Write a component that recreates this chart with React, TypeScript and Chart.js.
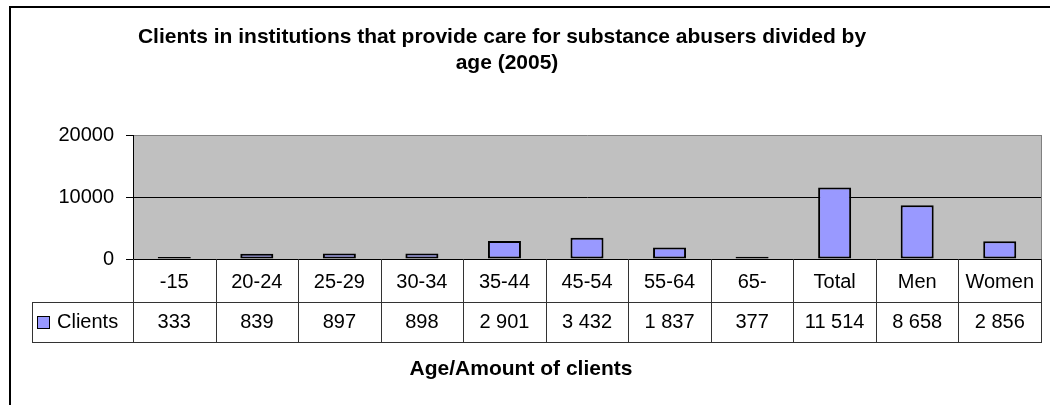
import React, { useEffect, useRef } from 'react';
import { Chart, registerables } from 'chart.js';

Chart.register(...registerables);

// Clients per age group, plus totals by sex
const categories = ['-15', '20-24', '25-29', '30-34', '35-44', '45-54', '55-64', '65-', 'Total', 'Men', 'Women'];
const clients = [333, 839, 897, 898, 2901, 3432, 1837, 377, 11514, 8658, 2856];
const seriesName = 'Clients';
const yTicks = [0, 10000, 20000];
const titleLines = ['Clients in institutions that provide care for substance abusers divided by', 'age (2005)'];
const axisTitle = 'Age/Amount of clients';

const FONT = '"Liberation Sans", Arial, Helvetica, sans-serif';
const BAR_FILL = '#9999FF';
const PLOT_FILL = '#C0C0C0';
const TEXT_SIZE = 20;

const formatCount = (n: number) => String(n).replace(/\B(?=(\d{3})+(?!\d))/g, ' ');

// Grey plot background and its right edge
const plotBackground = {
  id: 'plotBackground',
  beforeDraw(chart: any) {
    const { ctx, chartArea: a } = chart;
    ctx.save();
    ctx.fillStyle = PLOT_FILL;
    ctx.fillRect(a.left, a.top, a.right - a.left, a.bottom - a.top);
    ctx.restore();
  },
  beforeDatasetsDraw(chart: any) {
    const { ctx, chartArea: a } = chart;
    ctx.save();
    ctx.strokeStyle = '#808080';
    ctx.lineWidth = 1;
    ctx.beginPath();
    ctx.moveTo(Math.round(a.right) + 0.5, a.top);
    ctx.lineTo(Math.round(a.right) + 0.5, a.bottom);
    ctx.stroke();
    ctx.restore();
  },
};

// Data table under the axis, titles and the outer frame
const tableAndTitles = {
  id: 'tableAndTitles',
  afterDraw(chart: any) {
    const { ctx, chartArea: a } = chart;
    const xScale = chart.scales.x;
    const ds = chart.data.datasets[0];
    const n = categories.length;
    const colW = (a.right - a.left) / n;
    const headTop = Math.round(a.bottom);
    const headBottom = 302;
    const rowBottom = 342;
    const tableLeft = 32;
    const rowMid = (headBottom + rowBottom) / 2;

    ctx.save();
    ctx.strokeStyle = '#333333';
    ctx.lineWidth = 1;
    ctx.beginPath();
    ctx.moveTo(tableLeft, headBottom + 0.5);
    ctx.lineTo(a.right + 1, headBottom + 0.5);
    ctx.moveTo(tableLeft, rowBottom + 0.5);
    ctx.lineTo(a.right + 1, rowBottom + 0.5);
    for (let i = 0; i <= n; i++) {
      const xx = Math.round(a.left + i * colW) + 0.5;
      ctx.moveTo(xx, headTop);
      ctx.lineTo(xx, rowBottom + 1);
    }
    ctx.moveTo(tableLeft + 0.5, headBottom);
    ctx.lineTo(tableLeft + 0.5, rowBottom + 1);
    ctx.stroke();

    // values row
    ctx.fillStyle = '#000';
    ctx.font = `${TEXT_SIZE}px ${FONT}`;
    ctx.textAlign = 'center';
    ctx.textBaseline = 'middle';
    ds.data.forEach((v: number, i: number) => {
      ctx.fillText(formatCount(v), xScale.getPixelForValue(i), rowMid);
    });

    // legend key inside the table
    ctx.fillStyle = ds.backgroundColor;
    ctx.fillRect(37, rowMid - 6, 13, 13);
    ctx.strokeStyle = '#000';
    ctx.strokeRect(37.5, rowMid - 5.5, 12, 12);
    ctx.fillStyle = '#000';
    ctx.textAlign = 'left';
    ctx.fillText(ds.label, 57, rowMid);

    // chart title
    ctx.font = `bold 21px ${FONT}`;
    ctx.textAlign = 'center';
    ctx.fillText(titleLines[0], 502, 37);
    ctx.fillText(titleLines[1], 507, 63);

    // category axis title
    ctx.fillText(axisTitle, 521, 369);

    // outer frame
    ctx.strokeStyle = '#000';
    ctx.lineWidth = 2;
    ctx.strokeRect(10, 7, 1200, 600);
    ctx.restore();
  },
};

export default function App() {
  const canvasRef = useRef<HTMLCanvasElement | null>(null);

  useEffect(() => {
    const canvas = canvasRef.current;
    if (!canvas) return;
    Chart.defaults.font.family = FONT;
    const chart = new Chart(canvas, {
      type: 'bar',
      data: {
        labels: categories,
        datasets: [
          {
            label: seriesName,
            data: clients,
            backgroundColor: BAR_FILL,
            borderColor: '#000',
            borderWidth: 2,
            borderSkipped: false,
            categoryPercentage: 1,
            barPercentage: 0.4,
          },
        ],
      },
      options: {
        responsive: false,
        animation: false,
        events: [],
        layout: { padding: { top: 135, left: 0, right: 9, bottom: 0 } },
        plugins: {
          legend: { display: false },
          title: { display: false },
          tooltip: { enabled: false },
        },
        scales: {
          x: {
            offset: true,
            grid: { display: false },
            border: { display: true, color: '#000', width: 1 },
            ticks: { color: '#000', font: { size: TEXT_SIZE }, padding: 3, maxRotation: 0, autoSkip: false },
            afterFit: (s: any) => {
              s.height = 146;
            },
          },
          y: {
            min: yTicks[0],
            max: yTicks[yTicks.length - 1],
            afterBuildTicks: (s: any) => {
              s.ticks = yTicks.map((v) => ({ value: v }));
            },
            grid: {
              color: (c: any) => (c.tick && c.tick.value === yTicks[yTicks.length - 1] ? '#808080' : '#000'),
              tickColor: '#000',
              tickLength: 7,
              drawTicks: true,
            },
            border: { display: true, color: '#000', width: 1 },
            ticks: {
              color: '#000',
              font: { size: TEXT_SIZE },
              padding: 12,
              callback: (v: any) => String(v),
            },
            afterFit: (s: any) => {
              s.width = 133;
            },
          },
        },
      },
      plugins: [plotBackground, tableAndTitles],
    });
    return () => chart.destroy();
  }, []);

  return (
    <div style={{ position: 'absolute', left: 0, top: 0, width: 1050, height: 405 }}>
      <canvas ref={canvasRef} width={1050} height={405} style={{ display: 'block' }} />
    </div>
  );
}
